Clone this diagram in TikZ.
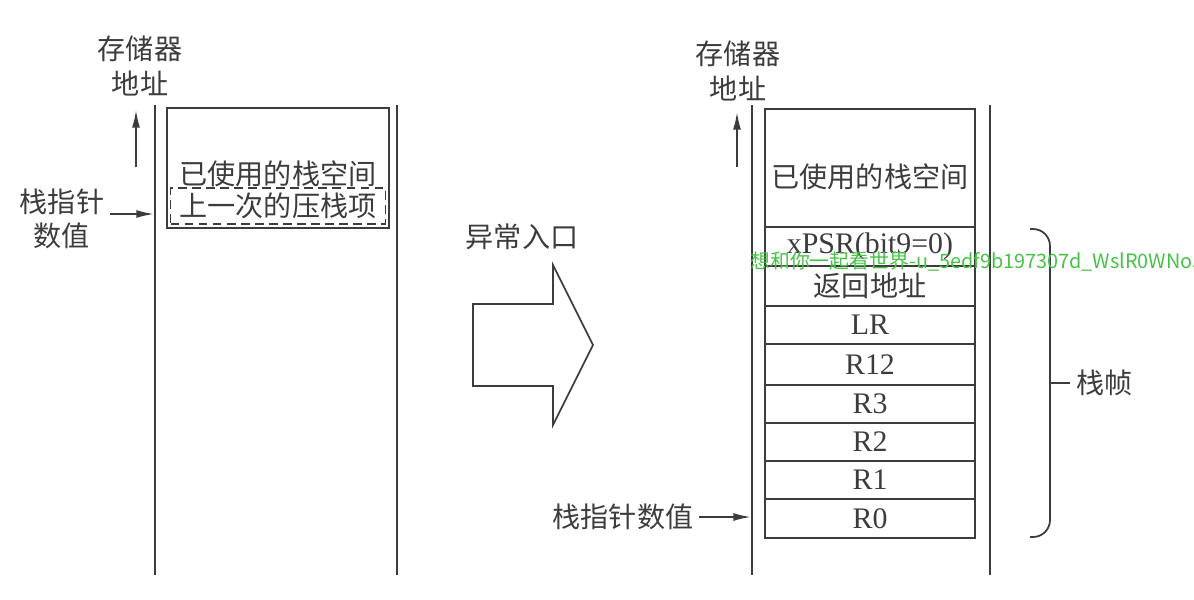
\documentclass[tikz,border=0pt]{standalone}
\usepackage{fontspec}
\setmainfont{Liberation Serif}
\newfontfamily\cjk{Noto Sans CJK SC}
\usetikzlibrary{arrows.meta}
\definecolor{inkgray}{RGB}{60,60,60}
\definecolor{wmgreen}{RGB}{70,195,70}

\begin{document}
\begin{tikzpicture}[
        x=0.02cm, y=-0.02cm,
        wall/.style={draw=inkgray, line width=1pt, line join=miter},
        cell/.style={draw=inkgray, line width=1pt, minimum width=4.2cm, inner sep=0pt, outer sep=0pt, font=\fontsize{17}{20}\selectfont, text=inkgray},
        zh/.style={font=\cjk\fontsize{16}{19.5}\selectfont, text=inkgray, align=center},
        arrow/.style={-{Latex[length=10pt, width=4.5pt]}, line width=1pt, draw=inkgray}
    ]
        \useasboundingbox (0,0) rectangle (1194,599);

        % --- Left stack (before exception) ---
        \draw[wall] (155,105) -- (155,575);
        \draw[wall] (397,105) -- (397,575);
        \node[cell, minimum width=4.44cm, minimum height=2.4cm] (usedL) at (278,168) {};
        \node[zh] (usedL_txt) at (278,174) {已使用的栈空间};
        \node[zh, draw=inkgray, dash pattern=on 5pt off 3pt, line width=1pt, minimum width=4.3cm, minimum height=0.72cm, inner sep=0pt] (lastpush) at (278,206) {上一次的压栈项};

        % --- Left labels ---
        \node[zh] (addrL) at (140,66) {存储器\\地址};
        \coordinate (addrL_foot) at (136,167);
        \coordinate (addrL_head) at (136,110);
        \draw[arrow] (addrL_foot) -- (addrL_head);
        \node[zh] (spL) at (62,219) {栈指针\\数值};
        \coordinate (spL_tip) at (154,214);
        \draw[arrow] (spL.east |- spL_tip) -- (spL_tip);

        % --- Exception entry arrow ---
        \node[zh] (entry) at (522,237) {异常入口};
        \draw[wall] (473,304) -- (553,304) -- (553,265) -- (593,345) -- (553,425) -- (553,386) -- (473,386) -- cycle;

        % --- Right stack (after exception) ---
        \draw[wall] (752,105) -- (752,575);
        \draw[wall] (990,105) -- (990,575);
        \node[cell, minimum height=2.36cm] (usedR) at (870,168) {};
        \node[zh] (usedR_txt) at (870,177) {已使用的栈空间};
        \node[cell, minimum height=0.78cm] (xpsr) at (870,246.5) {xPSR(bit9=0)};
        \node[cell, zh, minimum height=0.8cm] (retaddr) at (870,286) {返回地址};
        \node[cell, minimum height=0.76cm] (lr) at (870,325) {LR};
        \node[cell, minimum height=0.82cm] (r12) at (870,364.5) {R12};
        \node[cell, minimum height=0.76cm] (r3) at (870,404) {R3};
        \node[cell, minimum height=0.76cm] (r2) at (870,442) {R2};
        \node[cell, minimum height=0.76cm] (r1) at (870,480) {R1};
        \node[cell, minimum height=0.78cm] (r0) at (870,518.5) {R0};

        % --- Right labels ---
        \node[zh] (addrR) at (738,71) {存储器\\地址};
        \coordinate (addrR_foot) at (737,167);
        \coordinate (addrR_head) at (737,112);
        \draw[arrow] (addrR_foot) -- (addrR_head);
        \node[zh] (spR) at (623,517) {栈指针数值};
        \coordinate (spR_tip) at (751,517);
        \draw[arrow] (spR.east) -- (spR_tip);

        % --- Stack frame bracket ---
        \draw[wall, rounded corners=0.34cm] (1030,229) -- (1050,229) -- (1050,537) -- (1030,537);
        \coordinate (frame_mid) at (1050,383);
        \draw[wall] (frame_mid) -- ++(20,0) node[zh, right] (frame) {栈帧};

        % --- Watermark ---
        \begin{scope}
            \clip (0,0) rectangle (1194,599);
            \node[anchor=west, inner sep=0pt, text=wmgreen, font=\cjk\fontsize{11.3}{13}\selectfont] (mark) at (750,262) {想和你一起看世界-u\_5edf9b197307d\_WslR0WNoJf};
        \end{scope}

    \end{tikzpicture}
\end{document}
